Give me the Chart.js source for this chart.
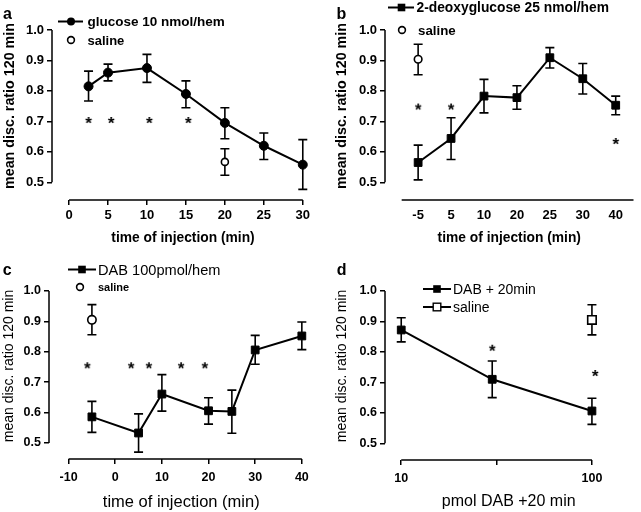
<!DOCTYPE html>
<html>
<head>
<meta charset="utf-8">
<script src="https://cdn.jsdelivr.net/npm/chart.js@4.4.1/dist/chart.umd.min.js"></script>
<style>
  body { margin: 0; background: #fff; width: 641px; height: 512px; position: relative; overflow: hidden;
         font-family: "Liberation Sans", Arial, Helvetica, sans-serif; color: #000; }
  .panel { position: absolute; width: 320px; height: 256px; }
  .letter { position: absolute; font-weight: bold; font-size: 16px; line-height: 16px; }
  .leg { position: absolute; white-space: nowrap; display: flex; align-items: center; height: 18px; }
  #symbols { position: absolute; left: 0; top: 0; pointer-events: none; }
</style>
</head>
<body>
<div class="panel" style="left:0;top:0"><canvas id="chartA" width="320" height="256"></canvas></div>
<div class="panel" style="left:320px;top:0"><canvas id="chartB" width="320" height="256"></canvas></div>
<div class="panel" style="left:0;top:256px"><canvas id="chartC" width="320" height="256"></canvas></div>
<div class="panel" style="left:320px;top:256px"><canvas id="chartD" width="320" height="256"></canvas></div>
<svg id="symbols" width="641" height="512"></svg>

<script>
const FONT = '"Liberation Sans", Arial, Helvetica, sans-serif';
Chart.defaults.font.family = FONT;
Chart.defaults.color = '#000';

// ---- shared y ticks ----
const yTicks = [0.5, 0.6, 0.7, 0.8, 0.9, 1.0];

// ---- panel a: glucose 10 nmol/hem ----
const glucoseTime = [2.5, 5, 10, 15, 20, 25, 30];
const glucoseMean = [0.815, 0.86, 0.875, 0.79, 0.695, 0.62, 0.558];
const glucoseHi   = [0.865, 0.888, 0.92, 0.833, 0.745, 0.662, 0.64];
const glucoseLo   = [0.767, 0.833, 0.828, 0.745, 0.643, 0.575, 0.477];
const salineATime = [20];
const salineAMean = [0.567];
const salineAHi   = [0.61];
const salineALo   = [0.523];
const starsATime  = [2.5, 5.4, 10.3, 15.3];
const starsAY     = [0.708, 0.708, 0.708, 0.708];
const ticksA      = [0, 5, 10, 15, 20, 25, 30];

// ---- panel b: 2-deoxyglucose 25 nmol/hem (evenly spaced categories) ----
const deoxyLabels = ['-5', '5', '10', '20', '25', '30', '40'];
const deoxyMean   = [0.565, 0.644, 0.783, 0.778, 0.909, 0.84, 0.753];
const deoxyHi     = [0.622, 0.712, 0.838, 0.817, 0.942, 0.89, 0.783];
const deoxyLo     = [0.508, 0.575, 0.728, 0.74, 0.875, 0.79, 0.722];
const salineBCat  = ['-5'];
const salineBMean = [0.904];
const salineBHi   = [0.953];
const salineBLo   = [0.853];
const starsBCat   = ['-5', '5', '40'];
const starsBY     = [0.752, 0.752, 0.639];

// ---- panel c: DAB 100 pmol/hem ----
const dabTime   = [-5, 5, 10, 20, 25, 30, 40];
const dabMean   = [0.586, 0.533, 0.661, 0.606, 0.604, 0.806, 0.852];
const dabHi     = [0.637, 0.596, 0.725, 0.649, 0.674, 0.854, 0.898];
const dabLo     = [0.535, 0.47, 0.605, 0.562, 0.532, 0.759, 0.807];
const salineCTime = [-5];
const salineCMean = [0.905];
const salineCHi   = [0.955];
const salineCLo   = [0.856];
const starsCTime  = [-6, 3.4, 7.2, 14.1, 19.2];
const starsCY     = [0.759, 0.759, 0.759, 0.759, 0.759];
const ticksC      = [-10, 0, 10, 20, 30, 40];

// ---- panel d: DAB dose, +20 min ----
const doseD      = [10, 30, 100];
const doseMean   = [0.872, 0.71, 0.606];
const doseHi     = [0.912, 0.77, 0.648];
const doseLo     = [0.833, 0.65, 0.562];
const salineDDose = [100];
const salineDMean = [0.905];
const salineDHi   = [0.955];
const salineDLo   = [0.856];
const starsDDose  = [30, 104];
const starsDY     = [0.817, 0.734];
const ticksD      = [10, 31.62, 100];
const tickLabelsD = ['10', '', '100'];

const pts = (xs, ys) => xs.map((x, i) => ({ x, y: ys[i] }));

// asterisk glyph used as a point style
function asteriskImage() {
  const c = document.createElement('canvas');
  c.width = 14; c.height = 14;
  const g = c.getContext('2d');
  g.font = 'bold 17px ' + FONT;
  g.textAlign = 'center';
  g.fillStyle = '#000';
  g.fillText('*', 7, 7 + 0.58 * 17);
  return c;
}
const STAR = asteriskImage();

function meanSet(data, hi, lo, style, radius) {
  return { data, errHi: hi, errLo: lo, borderColor: '#000', borderWidth: 2, tension: 0,
           pointStyle: style, pointRadius: radius, pointBackgroundColor: '#000', pointBorderColor: '#000', pointBorderWidth: 1 };
}
function salineSet(data, hi, lo, style, radius) {
  return { data, errHi: hi, errLo: lo, showLine: false, pointStyle: style, pointRadius: radius,
           pointBackgroundColor: '#fff', pointBorderColor: '#000', pointBorderWidth: 1.6 };
}
function starSet(data) {
  return { data, showLine: false, pointStyle: STAR, pointRadius: 5 };
}

// axis lines (detached) + error bars, drawn under the markers
const frame = {
  id: 'frame',
  beforeDatasetsDraw(chart, args, opts) {
    const { ctx, chartArea, scales: { x, y } } = chart;
    ctx.save();
    ctx.strokeStyle = '#000';
    ctx.lineWidth = 1.5;
    ctx.beginPath();
    ctx.moveTo(chartArea.left, y.getPixelForValue(0.5));
    ctx.lineTo(chartArea.left, y.getPixelForValue(1.0));
    const x0 = x.getPixelForValue(opts.xFrom);
    const x1 = opts.xTo == null ? chartArea.right : x.getPixelForValue(opts.xTo);
    ctx.moveTo(x0, chartArea.bottom);
    ctx.lineTo(x1, chartArea.bottom);
    ctx.stroke();

    ctx.lineWidth = 1.6;
    ctx.beginPath();
    chart.data.datasets.forEach(ds => {
      if (!ds.errHi) return;
      ds.data.forEach((p, j) => {
        const px = x.getPixelForValue(p.x);
        const hi = y.getPixelForValue(ds.errHi[j]);
        const lo = y.getPixelForValue(ds.errLo[j]);
        ctx.moveTo(px, hi); ctx.lineTo(px, lo);
        ctx.moveTo(px - 4.5, hi); ctx.lineTo(px + 4.5, hi);
        ctx.moveTo(px - 4.5, lo); ctx.lineTo(px + 4.5, lo);
      });
    });
    ctx.stroke();
    ctx.restore();
  }
};

function buildChart(id, o) {
  return new Chart(document.getElementById(id), {
    type: 'line',
    data: { datasets: o.datasets },
    options: {
      responsive: false,
      animation: false,
      events: [],
      clip: false,
      layout: { padding: { left: 0, top: o.top, right: o.right, bottom: 0 } },
      plugins: {
        legend: { display: false },
        tooltip: { enabled: false },
        frame: { xFrom: o.xFrom, xTo: o.xTo }
      },
      scales: {
        x: {
          type: o.xType || 'linear',
          min: o.xMin, max: o.xMax,
          afterBuildTicks: s => { s.ticks = o.xTicks.map(v => ({ value: v })); },
          afterFit: s => { s.height = 256 - o.bottom; },
          ticks: { font: { size: o.tickSize, weight: 'bold' }, color: '#000', padding: o.xTickPad,
                   autoSkip: false, maxRotation: 0, callback: o.xLabel || (v => String(v)) },
          grid: { drawOnChartArea: false, tickLength: 5, color: o.xTickColor || '#000', lineWidth: 1.5 },
          border: { display: false },
          title: { display: true, text: o.xTitle, color: '#000', font: o.xTitleFont,
                   padding: { top: 0, bottom: o.xTitlePad } }
        },
        y: {
          min: o.yMin, max: o.yMax,
          afterBuildTicks: s => { s.ticks = yTicks.map(v => ({ value: v })); },
          afterFit: s => { s.width = o.left; },
          ticks: { font: { size: o.tickSize, weight: 'bold' }, color: '#000', padding: 3,
                   callback: v => v.toFixed(1) },
          grid: { drawOnChartArea: false, tickLength: 5, color: '#000', lineWidth: 1.5 },
          border: { display: false },
          title: { display: true, text: 'mean disc. ratio 120 min', color: '#000', font: o.yTitleFont,
                   padding: { top: o.yTitlePad, bottom: 0 } }
        }
      }
    },
    plugins: [frame]
  });
}

const boldX = { size: 13.8, weight: 'bold', lineHeight: 1.2 };
const boldY = { size: 14.3, weight: 'bold', lineHeight: 1.2 };

buildChart('chartA', {
  left: 52, top: 12, right: 2, bottom: 200,
  xMin: -2.19, xMax: 31.44, yMin: 0.442, yMax: 1.059,
  xTicks: ticksA, xFrom: 0, xTo: 30, tickSize: 13, xTickPad: 3,
  xTitle: 'time of injection (min)', xTitleFont: boldX, xTitlePad: 9.4,
  yTitleFont: boldY, yTitlePad: 1,
  datasets: [
    meanSet(pts(glucoseTime, glucoseMean), glucoseHi, glucoseLo, 'circle', 4.5),
    salineSet(pts(salineATime, salineAMean), salineAHi, salineALo, 'circle', 3.5),
    starSet(pts(starsATime, starsAY))
  ]
});

const catIdx = c => deoxyLabels.indexOf(c);
buildChart('chartB', {
  left: 65, top: 12, right: 0, bottom: 200,
  xMin: -1.006, xMax: 6.54, yMin: 0.442, yMax: 1.059,
  xTicks: deoxyLabels.map((_, i) => i), xFrom: -0.5, xTo: null, tickSize: 13, xTickPad: 3,
  xLabel: v => deoxyLabels[v], xTickColor: 'rgba(0,0,0,0)',
  xTitle: 'time of injection (min)', xTitleFont: boldX, xTitlePad: 9.4,
  yTitleFont: boldY, yTitlePad: 13,
  datasets: [
    meanSet(pts(deoxyLabels.map(catIdx), deoxyMean), deoxyHi, deoxyLo, 'rect', 5.5),
    salineSet(pts(salineBCat.map(catIdx), salineBMean), salineBHi, salineBLo, 'circle', 3.8),
    starSet(pts(starsBCat.map(catIdx), starsBY))
  ]
});

buildChart('chartC', {
  left: 49, top: 17, right: 2, bottom: 203,
  xMin: -14.2, xMax: 42.5, yMin: 0.4475, yMax: 1.059,
  xTicks: ticksC, xFrom: -10, xTo: 40, tickSize: 12.5, xTickPad: 6,
  xTitle: 'time of injection (min)', xTitleFont: { size: 16.5, lineHeight: 1.1 }, xTitlePad: 0,
  yTitleFont: { size: 14, lineHeight: 1.2 }, yTitlePad: 0.6,
  datasets: [
    meanSet(pts(dabTime, dabMean), dabHi, dabLo, 'rect', 5.5),
    salineSet(pts(salineCTime, salineCMean), salineCHi, salineCLo, 'circle', 4.2),
    starSet(pts(starsCTime, starsCY))
  ]
});

buildChart('chartD', {
  left: 65, top: 16, right: 0, bottom: 204,
  xType: 'logarithmic', xMin: 8.22, xMax: 163, yMin: 0.445, yMax: 1.0624,
  xTicks: ticksD, xFrom: 10, xTo: 100, tickSize: 12.5, xTickPad: 6,
  xLabel: (v, i) => tickLabelsD[i],
  xTitle: 'pmol DAB +20 min', xTitleFont: { size: 16, lineHeight: 1.1 }, xTitlePad: 1.2,
  yTitleFont: { size: 14, lineHeight: 1.2 }, yTitlePad: 14.1,
  datasets: [
    meanSet(pts(doseD, doseMean), doseHi, doseLo, 'rect', 5.5),
    salineSet(pts(salineDDose, salineDMean), salineDHi, salineDLo, 'rect', 6),
    starSet(pts(starsDDose, starsDY))
  ]
});

// ---- panel letters and legends (page coordinates) ----
const letters = [['a', 3, 19.3], ['b', 336.5, 19.3], ['c', 2.7, 275.3], ['d', 336.7, 275.3]];
letters.forEach(([t, x, base]) => {
  const d = document.createElement('div');
  d.className = 'letter';
  d.textContent = t;
  d.style.left = x + 'px';
  d.style.top = (base - 13.5) + 'px';
  document.body.appendChild(d);
});

const legendRows = [
  { x0: 58,  x1: 83,  mx: 71,    y: 21.5, mk: 'dot',    tx: 87.5, text: 'glucose 10 nmol/hem', font: 'bold 13.5px' },
  { mx: 71,  y: 40,   mk: 'ring', tx: 87.5, text: 'saline', font: 'bold 13px' },
  { x0: 388, x1: 414, mx: 401.5, y: 7.5,  mk: 'square', tx: 416.5, text: '2-deoxyglucose 25 nmol/hem', font: 'bold 13.8px' },
  { mx: 402, y: 30,   mk: 'ring', tx: 418, text: 'saline', font: 'bold 13.3px' },
  { x0: 68,  x1: 96,  mx: 82,    y: 269.5, mk: 'square', tx: 98, text: 'DAB 100pmol/hem', font: '14.6px' },
  { mx: 80,  y: 287,  mk: 'ring', tx: 98, text: 'saline', font: 'bold 11px' },
  { x0: 423, x1: 451, mx: 437,   y: 289, mk: 'square', tx: 453, text: 'DAB + 20min', font: '14px' },
  { x0: 423, x1: 451, mx: 437,   y: 307, mk: 'box',    tx: 453, text: 'saline', font: '14px' }
];

const svg = document.getElementById('symbols');
const NS = 'http://www.w3.org/2000/svg';
function svgEl(tag, attrs) {
  const e = document.createElementNS(NS, tag);
  for (const k in attrs) e.setAttribute(k, attrs[k]);
  svg.appendChild(e);
}
legendRows.forEach(r => {
  if (r.x0 != null) svgEl('line', { x1: r.x0, y1: r.y, x2: r.x1, y2: r.y, stroke: '#000', 'stroke-width': 2 });
  if (r.mk === 'dot') svgEl('circle', { cx: r.mx, cy: r.y, r: 4, fill: '#000' });
  if (r.mk === 'ring') svgEl('circle', { cx: r.mx, cy: r.y, r: 3.4, fill: '#fff', stroke: '#000', 'stroke-width': 1.6 });
  if (r.mk === 'square') svgEl('rect', { x: r.mx - 3.8, y: r.y - 3.8, width: 7.6, height: 7.6, fill: '#000' });
  if (r.mk === 'box') svgEl('rect', { x: r.mx - 3.8, y: r.y - 3.8, width: 7.6, height: 7.6, fill: '#fff', stroke: '#000', 'stroke-width': 1.4 });
  const d = document.createElement('div');
  d.className = 'leg';
  d.textContent = r.text;
  d.style.font = r.font + ' ' + FONT;
  d.style.left = r.tx + 'px';
  d.style.top = (r.y - 9) + 'px';
  document.body.appendChild(d);
});
</script>
</body>
</html>
